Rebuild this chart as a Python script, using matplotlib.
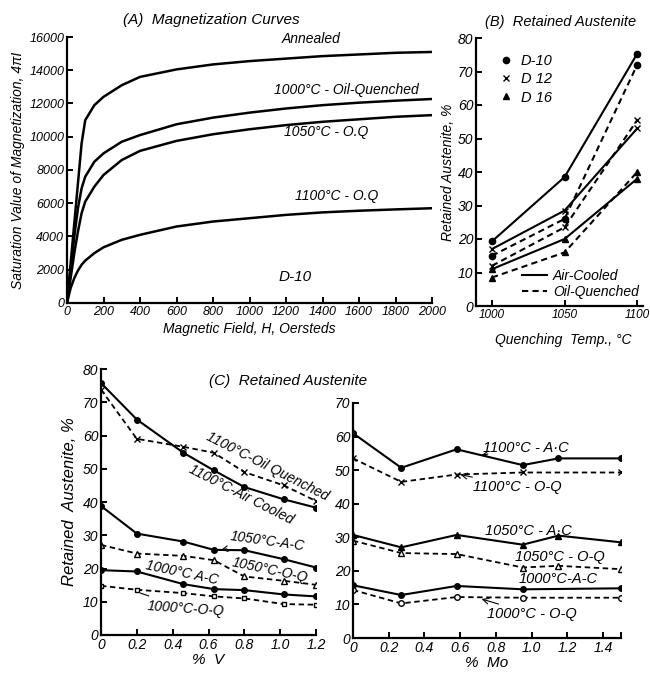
import matplotlib.pyplot as plt
from matplotlib.lines import Line2D

plt.rcParams['font.family'] = ['Liberation Sans', 'DejaVu Sans']
plt.rcParams['font.style'] = 'italic'
plt.rcParams['font.size'] = 10
plt.rcParams['axes.linewidth'] = 1.6

# (A) magnetization curves of D-10
field_h = [0, 20, 40, 60, 80, 100, 150, 200, 300, 400, 600, 800,
           1000, 1200, 1400, 1600, 1800, 2000]
annealed = [0, 2400, 4800, 7200, 9600, 11000, 11900, 12400, 13100, 13600,
            14050, 14350, 14550, 14700, 14850, 14950, 15050, 15100]
oq_1000 = [0, 2000, 4000, 5700, 6900, 7600, 8500, 9000, 9700, 10100,
           10750, 11150, 11450, 11700, 11900, 12050, 12170, 12270]
oq_1050 = [0, 1500, 3000, 4300, 5400, 6100, 7000, 7700, 8600, 9150,
           9750, 10150, 10450, 10700, 10900, 11050, 11200, 11300]
oq_1100 = [0, 900, 1500, 1950, 2300, 2550, 3000, 3350, 3800, 4100,
           4600, 4900, 5100, 5300, 5450, 5550, 5630, 5700]

# (B) retained austenite vs quenching temperature
quench_temp = [1000, 1050, 1100]
b_d10_ac = [19.3, 38.5, 75.3]
b_d10_oq = [15.0, 26.0, 72.0]
b_d12_ac = [17.0, 28.5, 53.0]
b_d12_oq = [12.0, 23.5, 55.5]
b_d16_ac = [11.0, 20.0, 38.0]
b_d16_oq = [8.5, 16.0, 40.0]

# (C) retained austenite vs % V
pct_v = [0, 0.2, 0.46, 0.63, 0.8, 1.02, 1.2]
v_1100_ac = [75.8, 64.8, 54.8, 49.5, 44.5, 40.8, 38.3]
v_1100_oq = [73.8, 59.0, 56.6, 54.8, 49.0, 45.0, 40.3]
v_1050_ac = [38.8, 30.5, 28.1, 25.6, 25.5, 22.8, 20.3]
v_1050_oq = [27.1, 24.5, 23.8, 22.5, 17.6, 16.3, 15.1]
v_1000_ac = [19.5, 19.1, 15.3, 13.8, 13.5, 12.2, 11.6]
v_1000_oq = [14.8, 13.6, 12.6, 11.6, 11.0, 9.3, 9.1]

# (C) retained austenite vs % Mo
pct_mo = [0, 0.27, 0.58, 0.95, 1.15, 1.5]
mo_1100_ac = [61.0, 50.7, 56.2, 51.5, 53.5, 53.5]
pct_mo_oq = [0, 0.27, 0.58, 0.95, 1.5]
mo_1100_oq = [53.5, 46.5, 48.7, 49.3, 49.3]
mo_1050_ac = [30.7, 27.0, 30.7, 27.8, 30.5, 28.5]
mo_1050_oq = [29.0, 25.3, 25.0, 21.0, 21.5, 20.5]
pct_mo_1000 = [0, 0.27, 0.58, 0.95, 1.5]
mo_1000_ac = [15.7, 12.8, 15.5, 14.5, 14.8]
mo_1000_oq = [14.3, 10.3, 12.2, 12.0, 12.0]

W, H = 650, 678
DASH = (0, (3, 2))


def add_axes(fig, left, right, top, bottom):
    ax = fig.add_axes([left / W, 1 - bottom / H, (right - left) / W, (bottom - top) / H])
    ax.spines['top'].set_visible(False)
    ax.spines['right'].set_visible(False)
    ax.tick_params(direction='in', length=4, width=1.4, pad=2, labelsize=10)
    return ax


fig = plt.figure(figsize=(W / 100, H / 100), dpi=100)

# ---- (A)
ax_a = add_axes(fig, 67, 432, 37, 303)
ax_a.tick_params(labelsize=9)
for curve in (annealed, oq_1000, oq_1050, oq_1100):
    ax_a.plot(field_h, curve, color='k', lw=1.8)
ax_a.set_xlim(0, 2000)
ax_a.set_ylim(0, 16000)
ax_a.set_xticks(range(0, 2001, 200))
ax_a.set_yticks(range(0, 16001, 2000))
ax_a.set_xlabel('Magnetic Field, H, Oersteds', labelpad=3)
ax_a.set_ylabel('Saturation Value of Magnetization, 4πI', labelpad=3)
fig.text(211 / W, 1 - 20 / H, '(A)  Magnetization Curves', ha='center', va='center', fontsize=11)
ax_a.text(1340, 15450, 'Annealed', ha='center', va='bottom')
ax_a.text(1530, 12400, '1000°C - Oil-Quenched', ha='center', va='bottom')
ax_a.text(1420, 10700, '1050°C - O.Q', ha='center', va='top')
ax_a.text(1480, 6000, '1100°C - O.Q', ha='center', va='bottom')
ax_a.text(1250, 1560, 'D-10', ha='center', va='center', fontsize=11)

# ---- (B)
ax_b = add_axes(fig, 476, 643, 38, 306)
ax_b.tick_params(axis='x', labelsize=8.5)
ax_b.plot(quench_temp, b_d10_ac, 'k-o', lw=1.5, ms=4.5)
ax_b.plot(quench_temp, b_d10_oq, color='k', ls=DASH, marker='o', lw=1.5, ms=4.5)
ax_b.plot(quench_temp, b_d12_ac, 'k-x', lw=1.5, ms=5)
ax_b.plot(quench_temp, b_d12_oq, color='k', ls=DASH, marker='x', lw=1.5, ms=5)
ax_b.plot(quench_temp, b_d16_ac, 'k-^', lw=1.5, ms=4.5)
ax_b.plot(quench_temp, b_d16_oq, color='k', ls=DASH, marker='^', lw=1.5, ms=4.5)
ax_b.set_xlim(989, 1104)
ax_b.set_ylim(0, 80)
ax_b.set_xticks(quench_temp)
ax_b.set_yticks(range(0, 81, 10))
ax_b.set_ylabel('Retained Austenite, %', labelpad=2)
fig.text(563 / W, 1 - 340 / H, 'Quenching  Temp., °C', ha='center', va='center')
fig.text(561 / W, 1 - 22 / H, '(B)  Retained Austenite', ha='center', va='center', fontsize=10.5)
mark_handles = [Line2D([], [], color='k', ls='none', marker=m, ms=ms)
                for m, ms in (('o', 4.5), ('x', 5), ('^', 4.5))]
leg1 = ax_b.legend(mark_handles, ['D-10', 'D 12', 'D 16'], loc='upper left',
                   bbox_to_anchor=(0.06, 0.99), frameon=False, handlelength=1,
                   handletextpad=0.5, labelspacing=0.3, fontsize=10.5)
ax_b.add_artist(leg1)
line_handles = [Line2D([], [], color='k', lw=1.5),
                Line2D([], [], color='k', lw=1.5, ls=DASH)]
ax_b.legend(line_handles, ['Air-Cooled', 'Oil-Quenched'], loc='lower right',
            bbox_to_anchor=(1.05, -0.02), frameon=False, handlelength=1.8,
            handletextpad=0.4, labelspacing=0.15, fontsize=10)

# ---- (C) % V
ax_v = add_axes(fig, 101, 316, 369, 635)
ax_v.plot(pct_v, v_1100_ac, 'k-o', lw=1.5, ms=4)
ax_v.plot(pct_v, v_1100_oq, color='k', ls=DASH, marker='x', lw=1.3, ms=4.5)
ax_v.plot(pct_v, v_1050_ac, 'k-o', lw=1.5, ms=4)
ax_v.plot(pct_v, v_1050_oq, color='k', ls=DASH, marker='^', mfc='white', lw=1.3, ms=4)
ax_v.plot(pct_v, v_1000_ac, 'k-o', lw=1.5, ms=4)
ax_v.plot(pct_v, v_1000_oq, color='k', ls=DASH, marker='s', mfc='white', lw=1.3, ms=3.5)
ax_v.set_xlim(0, 1.2)
ax_v.set_ylim(0, 80)
ax_v.set_xticks([0, 0.2, 0.4, 0.6, 0.8, 1.0, 1.2])
ax_v.set_xticklabels(['0', '0.2', '0.4', '0.6', '0.8', '1.0', '1.2'])
ax_v.set_yticks(range(0, 81, 10))
ax_v.set_xlabel('%  V', labelpad=1, fontsize=11)
ax_v.set_ylabel('Retained  Austenite, %', labelpad=4, fontsize=12)
ax_v.text(0.93, 50.8, '1100°C-Oil Quenched', rotation=-27, ha='center', va='center')
ax_v.text(0.78, 42.3, '1100°C-Air Cooled', rotation=-27, ha='center', va='center')
ax_v.annotate('1050°C-A-C', xy=(0.67, 25.6), xytext=(0.93, 28.2), rotation=-8,
              ha='center', va='center',
              arrowprops=dict(arrowstyle='->', lw=0.8, color='k', shrinkA=12, shrinkB=0))
ax_v.text(0.94, 19.6, '1050°C-O-Q', rotation=-12, ha='center', va='center')
ax_v.text(0.45, 18.6, '1000°C A-C', rotation=-12, ha='center', va='center')
ax_v.annotate('1000°C-O-Q', xy=(0.22, 12.6), xytext=(0.47, 8.0), rotation=-4,
              ha='center', va='center',
              arrowprops=dict(arrowstyle='-', lw=0.8, color='k', shrinkA=20, shrinkB=0))

fig.text(288 / W, 1 - 381 / H, '(C)  Retained Austenite', ha='center', va='center', fontsize=11)

# ---- (C) % Mo
ax_mo = add_axes(fig, 353, 621, 403, 638)
ax_mo.plot(pct_mo, mo_1100_ac, 'k-o', lw=1.5, ms=4)
ax_mo.plot(pct_mo_oq, mo_1100_oq, color='k', ls=DASH, marker='x', lw=1.3, ms=4.5)
ax_mo.plot(pct_mo, mo_1050_ac, 'k-^', lw=1.5, ms=4)
ax_mo.plot(pct_mo, mo_1050_oq, color='k', ls=DASH, marker='^', mfc='white', lw=1.3, ms=4)
ax_mo.plot(pct_mo_1000, mo_1000_ac, 'k-o', lw=1.5, ms=4)
ax_mo.plot(pct_mo_1000, mo_1000_oq, color='k', ls=DASH, marker='o', mfc='white', lw=1.3, ms=4)
ax_mo.set_xlim(0, 1.5)
ax_mo.set_ylim(0, 70)
ax_mo.set_xticks([0, 0.2, 0.4, 0.6, 0.8, 1.0, 1.2, 1.4, 1.5])
ax_mo.set_xticklabels(['0', '0.2', '0.4', '0.6', '0.8', '1.0', '1.2', '1.4', ''])
ax_mo.set_yticks(range(0, 71, 10))
ax_mo.set_xlabel('%  Mo', labelpad=1, fontsize=11)
ax_mo.annotate('1100°C - A·C', xy=(0.72, 54.5), xytext=(0.97, 56.5),
               ha='center', va='center', fontsize=10.5,
               arrowprops=dict(arrowstyle='->', lw=0.8, color='k', shrinkA=28, shrinkB=0))
ax_mo.annotate('1100°C - O-Q', xy=(0.6, 48.7), xytext=(0.92, 45.0),
               ha='center', va='center', fontsize=10.5,
               arrowprops=dict(arrowstyle='->', lw=0.8, color='k', shrinkA=26, shrinkB=0))
ax_mo.text(0.98, 31.8, '1050°C - A·C', ha='center', va='center', fontsize=10.5)
ax_mo.text(1.16, 24.0, '1050°C - O-Q', ha='center', va='center', fontsize=10.5)
ax_mo.text(1.15, 17.6, '1000°C-A-C', ha='center', va='center', fontsize=10.5)
ax_mo.annotate('1000°C - O-Q', xy=(0.72, 11.6), xytext=(1.0, 7.2),
               ha='center', va='center', fontsize=10.5,
               arrowprops=dict(arrowstyle='->', lw=0.8, color='k', shrinkA=26, shrinkB=0))

fig.savefig('out.png', dpi=100)
